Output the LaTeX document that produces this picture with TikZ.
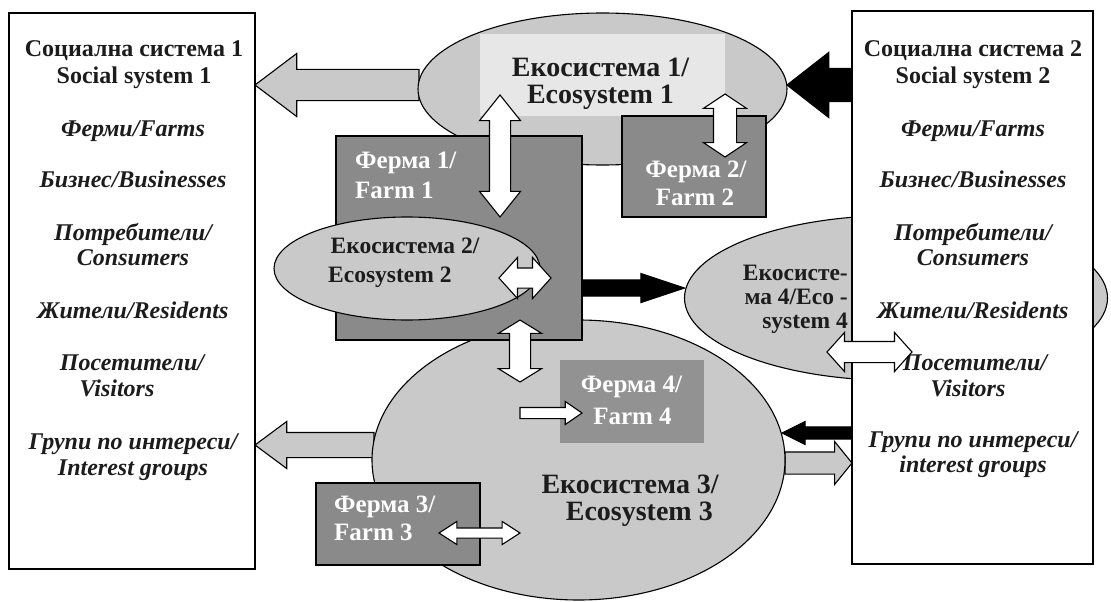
\documentclass[tikz,border=0pt]{standalone}
\usepackage{fontspec}
\setmainfont{Liberation Serif}
\usetikzlibrary{shapes.geometric,shapes.arrows,calc}
\pgfdeclarelayer{bg}
\pgfsetlayers{bg,main}
\definecolor{egray}{RGB}{201,201,201}
\definecolor{fgray}{RGB}{138,138,138}
\definecolor{ffgray}{RGB}{146,146,146}
\definecolor{hlgray}{RGB}{231,231,231}
\definecolor{txt}{RGB}{28,28,28}
% #1 style, #2 from (tail), #3 to (tip), #4 shaft half width, #5 head half width, #6 head length
\newcommand\sarrow[6]{\path let \p1=(#2),\p2=(#3),\n1={atan2(\y2-\y1,\x2-\x1)},\n2={veclen(\x2-\x1,\y2-\y1)} in node[sblk,#1,anchor=tail,rotate=\n1,minimum height=\n2,inner ysep={#4},single arrow head extend={#5-#4},single arrow tip angle={2*atan(#5/#6)}] at (\p1) {};}
\newcommand\darrow[6]{\path let \p1=(#2),\p2=(#3),\n1={atan2(\y2-\y1,\x2-\x1)},\n2={veclen(\x2-\x1,\y2-\y1)} in node[dblk,#1,rotate=\n1,minimum height=\n2,inner ysep={#4},double arrow head extend={#5-#4},double arrow tip angle={2*atan(#5/#6)}] at ($(\p1)!0.5!(\p2)$) {};}
\begin{document}
\begin{tikzpicture}[x=1pt,y=-1pt,
  eco/.style={ellipse,draw=black,line width=1.1pt,fill=egray,inner sep=0pt,outer sep=0pt},
  farm/.style={rectangle,draw=black,line width=1.1pt,fill=fgray,inner sep=0pt,outer sep=0pt},
  sysbox/.style={rectangle,draw=black,line width=1.3pt,fill=white,inner sep=0pt,outer sep=0pt},
  sblk/.style={single arrow,draw=black,line width=1.1pt,inner xsep=0pt,outer sep=0pt,minimum width=0pt,single arrow head indent=0pt},
  dblk/.style={double arrow,draw=black,line width=1.1pt,fill=white,inner xsep=0pt,outer sep=0pt,minimum width=0pt,double arrow head indent=0pt},
  sidehead/.style={font=\bfseries\fontsize{24}{26}\selectfont,text=txt,inner sep=0pt,anchor=base},
  sideitem/.style={font=\bfseries\itshape\fontsize{24}{26}\selectfont,text=txt,inner sep=0pt,anchor=base},
  ecobig/.style={font=\bfseries\fontsize{28}{28}\selectfont,text=txt,inner sep=0pt},
  ecosmall/.style={font=\bfseries\fontsize{23.5}{26}\selectfont,text=txt,inner sep=0pt},
  farmtxt/.style={font=\bfseries\fontsize{25}{30}\selectfont,text=white,inner sep=0pt}
]
\useasboundingbox (0,0) rectangle (1111,602);
\begin{pgfonlayer}{bg}
\fill[white] (0,0) rectangle (1111,602);
\end{pgfonlayer}
% ecosystems and farms
\node[eco,minimum width=413,minimum height=280] (e3) at (578.5,460) {};
\node[eco,minimum width=369,minimum height=152] (e1) at (602.5,89) {};
\node[fill=hlgray,minimum width=245,minimum height=82,inner sep=0pt] (hl) at (602.5,75) {};
\node[ecobig,anchor=base] (e1a) at (600.5,77) {Екосистема 1/};
\node[ecobig,anchor=base] (e1b) at (600.5,103) {Ecosystem 1};
\node[eco,minimum width=423,minimum height=165] (e4) at (896,298) {};
\node[farm,minimum width=246,minimum height=204] (f1) at (459,238) {};
\node[farmtxt,anchor=base west] (f1a) at (355,168) {Ферма 1/};
\node[farmtxt,anchor=base west] (f1b) at (355,198) {Farm 1};
\node[farm,minimum width=144,minimum height=101] (f2) at (694,166.5) {};
\node[farmtxt,anchor=base] (f2a) at (696,177) {Ферма 2/};
\node[farmtxt,anchor=base] (f2b) at (695,205) {Farm 2};
\node[eco,minimum width=266,minimum height=103] (e2) at (407,268.5) {};
\node[ecosmall,anchor=base] (e2a) at (405,253) {Екосистема 2/};
\node[ecosmall,anchor=base west] (e2b) at (328,282) {Ecosystem 2};
\node[fill=ffgray,minimum width=144,minimum height=83,inner sep=0pt] (f4) at (632,401.5) {};
\node[farmtxt,anchor=base] (f4a) at (631.5,392) {Ферма 4/};
\node[farmtxt,anchor=base] (f4b) at (632.5,424) {Farm 4};
\node[farm,minimum width=164,minimum height=82] (f3) at (398,524) {};
\node[farmtxt,anchor=base west] (f3a) at (334,512) {Ферма 3/};
\node[farmtxt,anchor=base west] (f3b) at (334,540) {Farm 3};
\node[ecobig,anchor=base east] (e3a) at (719,493) {Екосистема 3/};
\node[ecobig,anchor=base east] (e3b) at (713,520) {Ecosystem 3};
% social systems
\node[sysbox,minimum width=246,minimum height=556] (lb) at (132,291) {};
\node[sysbox,minimum width=241,minimum height=553] (rb) at (972.5,287.5) {};
\node[ecosmall,anchor=base east] (e4a) at (848,280) {Екосисте-};
\node[ecosmall,anchor=base east] (e4b) at (848,304) {ма 4/Eco -};
\node[ecosmall,anchor=base east] (e4c) at (848,328) {system 4};
\node[sidehead] (l0a) at (134,57) {Социална система 1};
\node[sidehead] (l0b) at (134,83) {Social system 1};
\node[sideitem] (l1) at (133,136) {Ферми/Farms};
\node[sideitem] (l2) at (133,187) {Бизнес/Businesses};
\node[sideitem] (l3a) at (133,240) {Потребители/};
\node[sideitem] (l3b) at (133,265) {Consumers};
\node[sideitem] (l4) at (133,318) {Жители/Residents};
\node[sideitem] (l5a) at (132,370) {Посетители/};
\node[sideitem] (l5b) at (117,396) {Visitors};
\node[sideitem] (l6a) at (133,449) {Групи по интереси/};
\node[sideitem] (l6b) at (133,475) {Interest groups};
\node[sidehead] (r0a) at (973,57) {Социална система 2};
\node[sidehead] (r0b) at (973,83) {Social system 2};
\node[sideitem] (r1) at (973,136) {Ферми/Farms};
\node[sideitem] (r2) at (973,187) {Бизнес/Businesses};
\node[sideitem] (r3a) at (973,240) {Потребители/};
\node[sideitem] (r3b) at (973,265) {Consumers};
\node[sideitem] (r4) at (973,318) {Жители/Residents};
\node[sideitem] (r5a) at (975,370) {Посетители/};
\node[sideitem] (r5b) at (968,396) {Visitors};
\node[sideitem] (r6a) at (973,447) {Групи по интереси/};
\node[sideitem] (r6b) at (973,472) {interest groups};
% arrow end points
\coordinate (t1) at (419,85);
\coordinate (t2) at (374,445);
\coordinate (t3) at (782,433);
\coordinate (t4) at (785,463);
\coordinate (t5) at (684.5,288);
% arrows behind shapes
\begin{pgfonlayer}{bg}
\sarrow{fill=egray}{t1}{lb.east |- t1}{15}{31}{41}
\sarrow{fill=black}{rb.west |- t1}{e1.east |- t1}{16}{32}{41}
\sarrow{fill=black}{f1.east |- t5}{t5}{7.5}{14}{42}
\sarrow{fill=egray}{t2}{lb.east |- t2}{12}{23}{31}
\sarrow{fill=black}{rb.west |- t3}{t3}{5.5}{11}{22}
\sarrow{fill=egray}{t4}{rb.west |- t4}{10.5}{21}{17}
\end{pgfonlayer}
% white arrows on top
\coordinate (a1) at (500,95);  \coordinate (a2) at (500,217);
\coordinate (b1) at (725,94);  \coordinate (b2) at (725,157);
\coordinate (c1) at (499,278); \coordinate (c2) at (551,278);
\coordinate (d1) at (520,320); \coordinate (d2) at (520,382);
\coordinate (g1) at (520,413); \coordinate (g2) at (582,413);
\coordinate (h1) at (439,533); \coordinate (h2) at (520,533);
\coordinate (k1) at (827,352); \coordinate (k2) at (912,352);
\darrow{}{a1}{a2}{10}{20}{25}
\darrow{}{b1}{b2}{11}{21}{14}
\darrow{}{c1}{c2}{9.5}{20}{18}
\darrow{}{d1}{d2}{10}{21}{13}
\sarrow{fill=white}{g1}{g2}{5}{11}{16}
\darrow{}{h1}{h2}{4.5}{11}{17}
\darrow{}{k1}{k2}{10}{19}{17}
\end{tikzpicture}
\end{document}
